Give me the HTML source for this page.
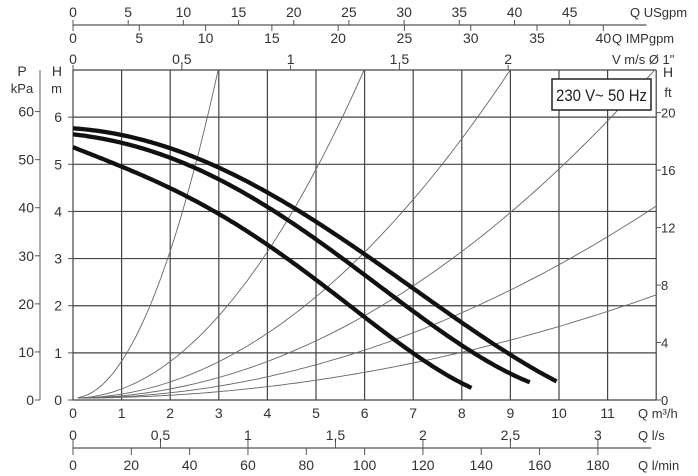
<!DOCTYPE html>
<html><head><meta charset="utf-8"><style>
body{margin:0;background:#fff}
svg{display:block;font-family:"Liberation Sans",sans-serif;fill:#333}
</style></head><body>
<svg id="s" width="698" height="476" xmlns="http://www.w3.org/2000/svg"></svg>
<script>
const s=document.getElementById('s');
const X0=73,XU=48.6,Y0=400,YU=47.14;
const X=q=>X0+q*XU, Y=h=>Y0-h*YU;
let o='';
const L=(x1,y1,x2,y2,w,c)=>o+=`<line x1="${x1}" y1="${y1}" x2="${x2}" y2="${y2}" stroke="${c||'#555'}" stroke-width="${w||1}"/>`;
const T=(x,y,t,a,sz)=>o+=`<text x="${x}" y="${y}" font-size="${sz||13}" text-anchor="${a||'middle'}" fill="#333">${t}</text>`;
for(let i=0;i<=12;i++)L(X(i),70,X(i),400,1.2,'#444');
for(let j=0;j<=7;j++)L(73,Y(j),X(12),Y(j),1.2,'#444');
for(let j=0;j<=6;j++){T(62,Y(j)+5,j,'end',14);L(68,Y(j),73,Y(j));}
T(62,76,'H','end',14);T(62,93,'m','end',13);
L(40,70,40,400,1.2,'#777');
for(let p=0;p<=60;p+=10){const y=Y0-p*0.10197*YU;L(35,y,40,y);T(34,y+5,p,'end',14);}
T(22,76,'P','middle',14);T(22,93,'kPa','middle',13);
for(let f=0;f<=20;f+=4){const y=Y0-f*0.3048*YU;L(656,y,661,y);T(661,y+5,f,'start',13);}
T(668,77,'H','middle',14);T(668,97,'ft','middle',13);
for(let i=0;i<=11;i++)T(X(i),418,i,'middle',14);
T(638,418,'Q m³/h','start',13);
L(73,448,X(12)-5,448,1.2,'#555');
for(let v=0;v<=3;v+=0.5){const x=X(v*3.6);L(x,440,x,448);T(x,440,String(v).replace('.',','),'middle',14);}
T(638,440,'Q l/s','start',13);
for(let v=0;v<=180;v+=20){const x=X(v*0.06);L(x,448,x,455);T(x,470,v,'middle',14);}
T(638,470,'Q l/min','start',13);
L(73,25,X(11.8),25,1.2,'#555');
for(let v=0;v<=45;v+=5){const x=X(v*0.2271);L(x,20,x,25);T(x,17,v,'middle',14);}
T(630,17,'Q USgpm','start',13);
for(let v=0;v<=40;v+=5){const x=X(v*0.2728);L(x,25,x,31);T(x,43,v,'middle',14);}
T(612,43,'Q IMPgpm','start',13);
for(let v=0;v<=2;v+=0.5){const x=73+217.6*v;L(x,65,x,70);T(x,64,String(v).replace('.',','),'middle',14);}
T(612,64,'V m/s Ø 1"','start',13);
const ks=[0.78,0.194,0.086,0.0486,0.0283,0.0152];
for(const k of ks){let p='';for(let q=0.1;q<=12.01;q+=0.1){let h=0.04+k*q*q;if(h>7){const qq=Math.sqrt((7-0.04)/k);p+=`${X(qq)},${Y(7)} `;break;}p+=`${X(q).toFixed(1)},${Y(h).toFixed(1)} `;}
o+=`<polyline points="${p}" fill="none" stroke="#666" stroke-width="0.9"/>`;}
function fit(pts,deg){const n=deg+1;const A=[...Array(n)].map(()=>Array(n+1).fill(0));
for(const [x,y] of pts){for(let i=0;i<n;i++){for(let j=0;j<n;j++)A[i][j]+=Math.pow(x,i+j);A[i][n]+=y*Math.pow(x,i);}}
for(let i=0;i<n;i++){let m=i;for(let r=i+1;r<n;r++)if(Math.abs(A[r][i])>Math.abs(A[m][i]))m=r;[A[i],A[m]]=[A[m],A[i]];
for(let r=0;r<n;r++)if(r!==i){const f=A[r][i]/A[i][i];for(let c=i;c<=n;c++)A[r][c]-=f*A[i][c];}}
return A.map((r,i)=>r[n]/r[i]);}
function pc(pts){const c=fit(pts,4);const qe=pts[pts.length-1][0];let p='';
for(let q=0;q<=qe+1e-6;q+=0.05){let h=0;for(let i=0;i<c.length;i++)h+=c[i]*Math.pow(q,i);p+=`${X(q).toFixed(1)},${Y(h).toFixed(1)} `;}
o+=`<polyline points="${p}" fill="none" stroke="#111" stroke-width="4.3" stroke-linejoin="round"/>`;}
pc([[0,5.37],[1,4.94],[2,4.48],[3,3.98],[4,3.3],[5,2.52],[6,1.76],[7,1.0],[8,0.38],[8.23,0.22]]);
pc([[0,5.64],[1,5.45],[2,5.13],[3,4.7],[4,4.1],[5,3.4],[6,2.64],[7,1.9],[8,1.15],[9,0.57],[9.42,0.36]]);
pc([[0,5.77],[1,5.6],[2,5.35],[3,4.96],[4,4.39],[5,3.75],[6,3.1],[7,2.4],[8,1.63],[9,0.95],[9.95,0.4]]);
o+=`<rect x="552" y="79" width="99" height="31" fill="#fff" stroke="#222" stroke-width="1.5"/>`;
o+=`<text x="556" y="101" font-size="17" textLength="91" lengthAdjust="spacingAndGlyphs" fill="#222">230 V~ 50 Hz</text>`;
s.innerHTML=o;
</script>
</body></html>
